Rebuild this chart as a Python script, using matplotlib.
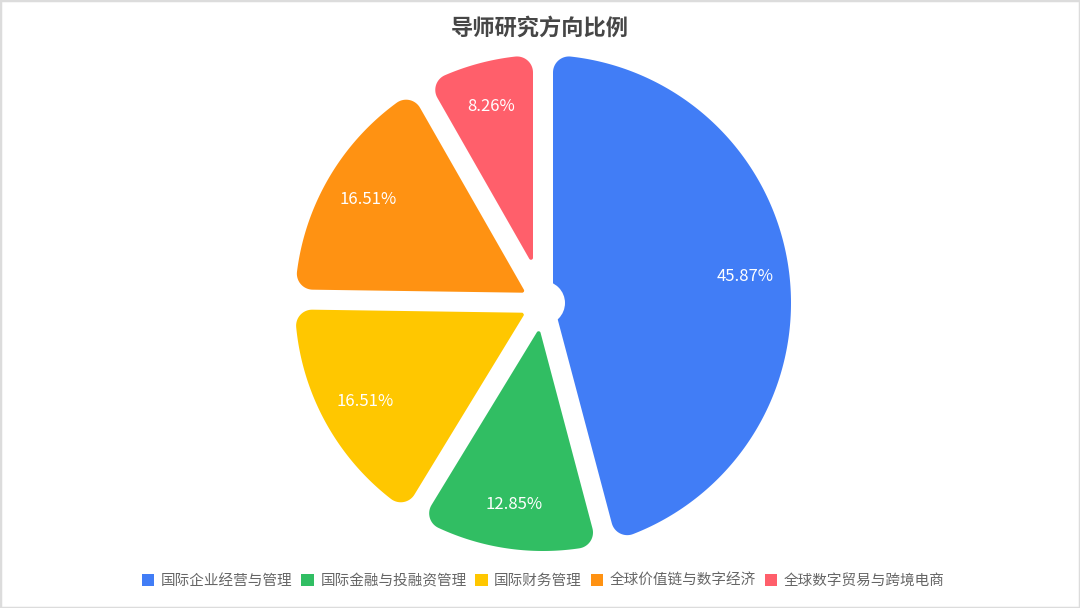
import numpy as np
import matplotlib
matplotlib.use("Agg")
import matplotlib.pyplot as plt
from matplotlib.patches import Polygon, Circle, Rectangle, Patch

plt.rcParams['font.family'] = ['Noto Sans CJK SC', 'DejaVu Sans']

# data
title = '导师研究方向比例'
labels = ['国际企业经营与管理', '国际金融与投融资管理', '国际财务管理',
          '全球价值链与数字经济', '全球数字贸易与跨境电商']
counts = [50, 14, 18, 18, 9]
colors = ['#417DF6', '#31BE63', '#FFC700', '#FF9212', '#FF5F6B']


# percentages rounded so that they add up to 100 (largest remainder)
def percent_labels(vals, digits=2):
    vals = np.asarray(vals, dtype=float)
    scale = 10 ** digits
    raw = vals / vals.sum() * 100 * scale
    base = np.floor(raw)
    left = int(round(100 * scale - base.sum()))
    order = np.argsort(-(raw - base))
    base[order[:left]] += 1
    return ['%.*f%%' % (digits, b / scale) for b in base]


pcts = percent_labels(counts)

W, H = 1080, 608
fig = plt.figure(figsize=(W / 100, H / 100), dpi=100)
ax = fig.add_axes([0, 0, 1, 1])

cx, cy, R = 543, H - 303, 248
gap = 20      # white gap between slices (px)
r_out = 16    # corner radius on the rim
r_tip = 2     # corner radius at the centre

wedges, texts, autotexts = ax.pie(
    counts, colors=colors, startangle=90, counterclock=False,
    radius=R, center=(cx, cy), autopct='%.2f%%', pctdistance=0.82,
    textprops=dict(color='white', fontsize=12))
for t, p in zip(autotexts, pcts):
    t.set_text(p)
    t.set_zorder(5)


def fillet(c, p0, p1, n=20):
    a0 = np.arctan2(p0[1] - c[1], p0[0] - c[0])
    a1 = np.arctan2(p1[1] - c[1], p1[0] - c[0])
    da = (a1 - a0 + np.pi) % (2 * np.pi) - np.pi
    r = np.hypot(p0[0] - c[0], p0[1] - c[1])
    t = a0 + da * np.linspace(0, 1, n)
    return np.column_stack([c[0] + r * np.cos(t), c[1] + r * np.sin(t)])


def rounded_wedge(t1, t2, rad):
    d = gap / 2
    a1, a2 = np.radians(t1), np.radians(t2)
    u1 = np.array([np.cos(a1), np.sin(a1)])
    n1 = np.array([-np.sin(a1), np.cos(a1)])
    u2 = np.array([np.cos(a2), np.sin(a2)])
    n2 = np.array([np.sin(a2), -np.cos(a2)])
    h = (a2 - a1) / 2
    ub = np.array([np.cos(a1 + h), np.sin(a1 + h)])

    # rim corners
    t = np.sqrt((rad - r_out) ** 2 - (d + r_out) ** 2)
    c1 = t * u1 + (d + r_out) * n1
    q1 = t * u1 + d * n1
    s1 = c1 * rad / np.linalg.norm(c1)
    c2 = t * u2 + (d + r_out) * n2
    q2 = t * u2 + d * n2
    s2 = c2 * rad / np.linalg.norm(c2)
    # tip corner
    la = (d + r_tip) / np.sin(h)
    ca = la * ub
    ta = la * np.cos(h)
    qa1 = ta * u1 + d * n1
    qa2 = ta * u2 + d * n2

    phi1 = np.arctan2(s1[1], s1[0])
    phi2 = np.arctan2(s2[1], s2[0])
    if phi2 < phi1:
        phi2 += 2 * np.pi
    arc = np.linspace(phi1, phi2, 200)
    pts = np.vstack([
        fillet(c1, q1, s1),
        np.column_stack([rad * np.cos(arc), rad * np.sin(arc)]),
        fillet(c2, s2, q2),
        fillet(ca, qa2, qa1),
    ])
    return pts + np.array([cx, cy])


for w in wedges:
    w.set_visible(False)
    ax.add_patch(Polygon(rounded_wedge(w.theta1, w.theta2, w.r), closed=True,
                         fc=w.get_facecolor(), ec='none', zorder=2))

# white hub in the middle
ax.add_patch(Circle((cx, cy), 22, fc='white', ec='none', zorder=3))

ax.set_xlim(0, W)
ax.set_ylim(0, H)
ax.set_aspect('equal')
ax.axis('off')

fig.text(0.5, 1 - 28 / H, title, ha='center', va='center', fontsize=16,
         fontweight='bold', color='#464646')

handles = [Patch(facecolor=c, edgecolor='none') for c in colors]
fig.legend(handles, labels, loc='center', bbox_to_anchor=(0.503, 1 - 581 / H),
           ncol=5, frameon=False, fontsize=10.5, labelcolor='#666666',
           handlelength=0.85, handleheight=0.95, handletextpad=0.45,
           columnspacing=0.6)

fig.patches.append(Rectangle((0, 0), 1, 1, transform=fig.transFigure,
                             fill=False, ec='#DCDCDC', lw=2.5))

fig.savefig('out.png', dpi=100)
